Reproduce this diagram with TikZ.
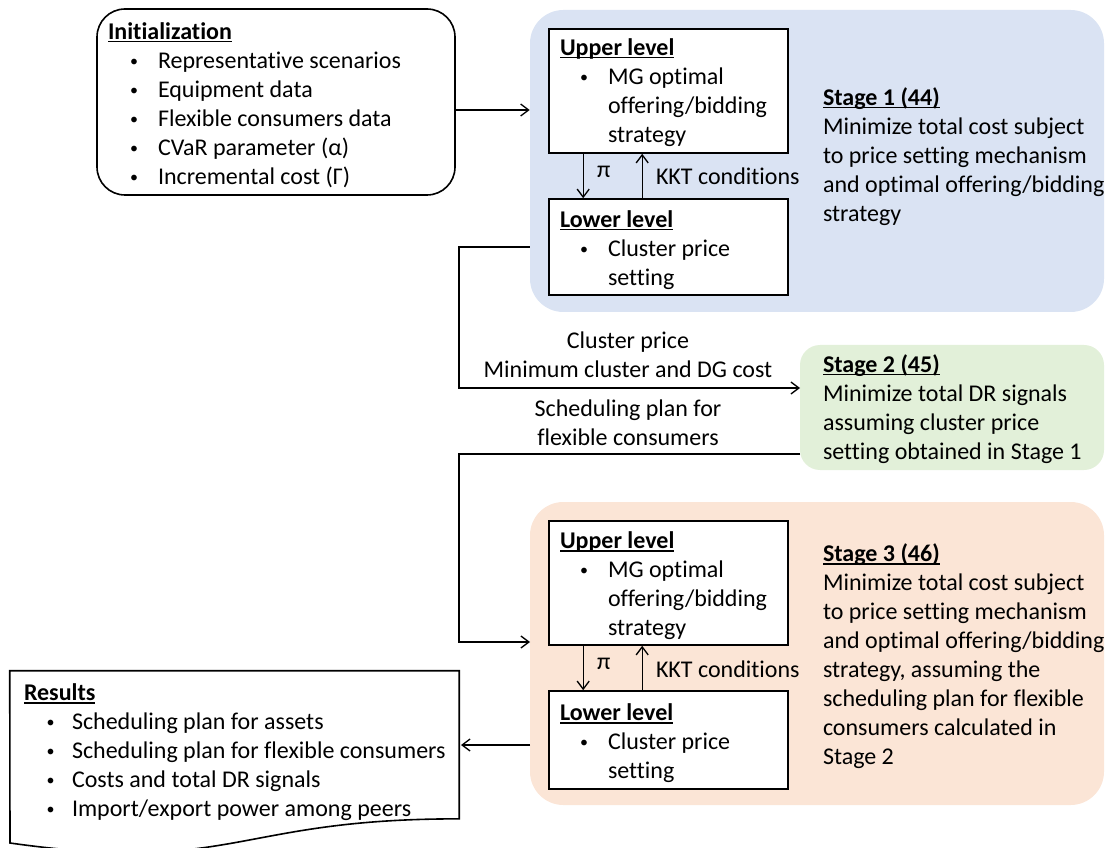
\documentclass[tikz,border=0pt]{standalone}
\usepackage{fontspec}
\setmainfont{Carlito}[Ligatures=NoCommon]
\usetikzlibrary{arrows.meta,calc}
\definecolor{sblue}{RGB}{218,227,243}
\definecolor{sgreen}{RGB}{226,240,217}
\definecolor{sorange}{RGB}{251,229,214}
\newcommand\bl[2]{\hspace*{#1}\makebox[#2][l]{\raisebox{1.6pt}{\fontsize{12}{12}\selectfont\textbullet}}}
\newcommand\ttl[1]{\setbox0\hbox{\textbf{#1}}\rlap{\rule[-2.4pt]{\wd0}{0.8pt}}\box0}
\begin{document}
\begin{tikzpicture}[x=0.75pt,y=-0.75pt,
 txt/.style={inner sep=0pt,outer sep=0pt,anchor=north west,align=left,font=\fontsize{18}{21.75}\selectfont},
 ctxt/.style={inner sep=0pt,outer sep=0pt,anchor=north,align=center,font=\fontsize{18}{21.75}\selectfont},
 lbl/.style={inner sep=0pt,outer sep=0pt,anchor=west,font=\fontsize{18}{21.75}\selectfont},
 box/.style={draw=black,line width=1.2pt,fill=white,inner sep=0pt},
 stage/.style={rounded corners=25pt,inner sep=0pt,draw=none},
 tip/.style={-{Straight Barb[length=6pt,width=9pt,line width=1pt]}},
 arr/.style={line width=1pt,tip},
 conn/.style={line width=1.5pt}
]
\path[use as bounding box] (0,0) rectangle (1106,848);

% stage backgrounds
\node[stage,fill=sblue,minimum width=430.5pt,minimum height=226.5pt] (s1) at (817,161) {};
\node[stage,fill=sgreen,rounded corners=15pt,minimum width=228pt,minimum height=93.75pt] (s2) at (952,407.5) {};
\node[stage,fill=sorange,minimum width=430.5pt,minimum height=227.25pt] (s3) at (817,653.5) {};

% initialization
\node[box,rounded corners=21pt,minimum width=268.5pt,minimum height=139.5pt] (init) at (276,102) {};
\node[txt] (initT) at (108,19) {\strut\ttl{Initialization}\\
\bl{16.5pt}{21pt}Representative scenarios\\
\bl{16.5pt}{21pt}Equipment data\\
\bl{16.5pt}{21pt}Flexible consumers data\\
\bl{16.5pt}{21pt}CVaR parameter (α)\\
\bl{16.5pt}{21pt}Incremental cost (Γ)};

% stage 1 inner boxes
\node[box,minimum width=179.25pt,minimum height=93pt] (up1) at (668.5,91) {};
\node[box,minimum width=179.25pt,minimum height=72pt] (lo1) at (668.5,247) {};
\node[txt] (up1T) at (560,35) {\strut\ttl{Upper level}\\
\bl{15pt}{21pt}MG optimal\\
\hspace*{36pt}offering/bidding\\
\hspace*{36pt}strategy};
\node[txt] (lo1T) at (560,207) {\strut\ttl{Lower level}\\
\bl{15pt}{21pt}Cluster price\\
\hspace*{36pt}setting};
\draw[arr] ($(up1.south west)+(35,0)$) -- ($(lo1.north west)+(35,0)$);
\draw[arr] ($(lo1.north west)+(94,0)$) -- ($(up1.south west)+(94,0)$);
\node[lbl] (pi1) at (597,172) {π};
\node[lbl] (kkt1) at (656,176) {KKT conditions};
\node[txt] (s1T) at (823,85) {\strut\ttl{Stage 1 (44)}\\
Minimize total cost subject\\
to price setting mechanism\\
and optimal offering/bidding\\
strategy};

% stage 2
\node[txt] (s2T) at (823,352) {\strut\ttl{Stage 2 (45)}\\
Minimize total DR signals\\
assuming cluster price\\
setting obtained in Stage 1};

% stage 3 inner boxes
\node[box,minimum width=179.25pt,minimum height=93pt] (up3) at (668.5,583) {};
\node[box,minimum width=179.25pt,minimum height=73.5pt] (lo3) at (668.5,740) {};
\node[txt] (up3T) at (560,528) {\strut\ttl{Upper level}\\
\bl{15pt}{21pt}MG optimal\\
\hspace*{36pt}offering/bidding\\
\hspace*{36pt}strategy};
\node[txt] (lo3T) at (560,700) {\strut\ttl{Lower level}\\
\bl{15pt}{21pt}Cluster price\\
\hspace*{36pt}setting};
\draw[arr] ($(up3.south west)+(35,0)$) -- ($(lo3.north west)+(35,0)$);
\draw[arr] ($(lo3.north west)+(94,0)$) -- ($(up3.south west)+(94,0)$);
\node[lbl] (pi3) at (597,664) {π};
\node[lbl] (kkt3) at (656,669) {KKT conditions};
\node[txt] (s3T) at (823,541) {\strut\ttl{Stage 3 (46)}\\
Minimize total cost subject\\
to price setting mechanism\\
and optimal offering/bidding\\
strategy, assuming the\\
scheduling plan for flexible\\
consumers calculated in\\
Stage 2};

% results document shape
\node[inner sep=0pt,minimum width=336.75pt,minimum height=110.7pt] (res) at (234.5,744.8) {};
\draw[line width=1.2pt,fill=white] (res.north west) -- (res.north east) -- (res.south east)
  .. controls (234.5,818.6) and (234.5,874.7) .. (10,843) -- cycle;
\node[txt] (resT) at (24,680) {\strut\ttl{Results}\\
\bl{17pt}{19pt}Scheduling plan for assets\\
\bl{17pt}{19pt}Scheduling plan for flexible consumers\\
\bl{17pt}{19pt}Costs and total DR signals\\
\bl{17pt}{19pt}Import/export power among peers};

% connectors
\draw[arr] ($(init.east)+(0,8)$) -- ($(init.east -| s1.west)+(0,8)$);
\coordinate (t1) at (459,247);
\coordinate (a2) at (800,388);
\draw[conn,tip] (s1.west |- lo1.west) -- (t1) |- (a2);
\node[ctxt] (lblA) at (628,328) {\strut Cluster price\\Minimum cluster and DG cost};
\node[ctxt] (lblB) at (628,396) {\strut Scheduling plan for\\flexible consumers};
\coordinate (b1) at (800,454);
\coordinate (t2) at (459,454);
\coordinate (b3) at (530,642);
\draw[conn,tip] (b1) -- (t2) |- (b3);
\coordinate (c1) at (530,745);
\coordinate (c2) at (461,745);
\draw[arr] (c1) -- (c2);
\end{tikzpicture}
\end{document}
